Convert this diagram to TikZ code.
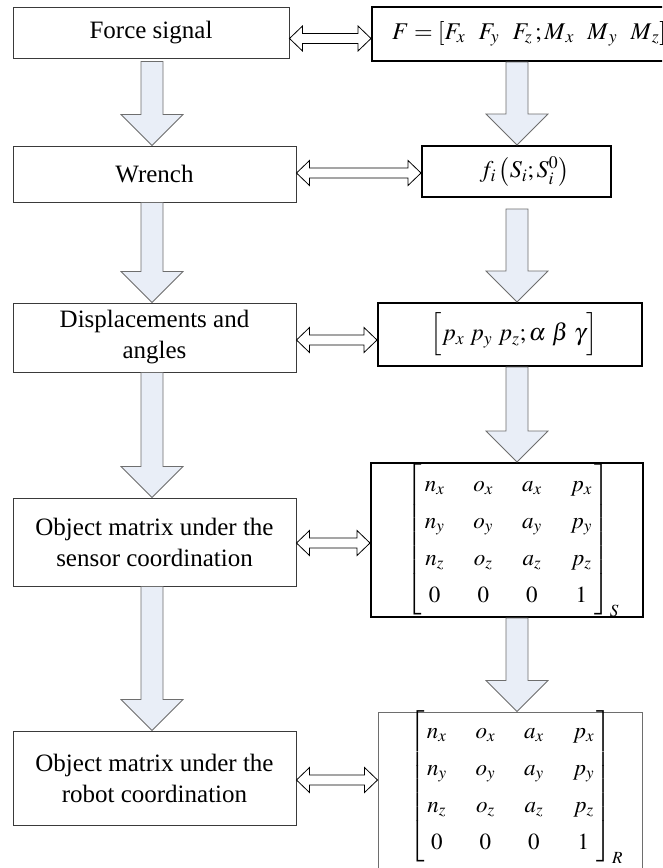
\documentclass[tikz,border=0pt]{standalone}
\usepackage{amsmath}
\usepackage{mathptmx}
\usepackage[no-math]{fontspec}
\setmainfont{Liberation Serif}
\usetikzlibrary{calc}
\definecolor{arrfill}{HTML}{E9EEF7}
\definecolor{arrline}{HTML}{6E6E6E}
\definecolor{boxline}{HTML}{3A3A3A}
\tikzset{
  lbox/.style={draw=boxline, line width=1pt, inner sep=0pt, align=center,
    font=\fontsize{25}{31}\selectfont},
  mbox/.style={draw=black, line width=2pt, inner sep=0pt, align=center,
    font=\fontsize{24}{29}\selectfont},
  tbox/.style={draw=arrline, line width=1pt, inner sep=0pt, align=center,
    font=\fontsize{24}{29}\selectfont},
  blk/.style={draw=arrline, fill=arrfill, line width=0.8pt, line join=miter},
  dbl/.style={draw=black, fill=white, line width=0.8pt, line join=miter},
}
\newcommand\blockdown[2]{%
  \draw[blk] let \p1=#1, \p2=#2 in
    (\x1-11pt,\y1) -- (\x1+11pt,\y1) -- (\x1+11pt,\y2+31pt) -- (\x1+31pt,\y2+31pt)
    -- (\x1,\y2) -- (\x1-31pt,\y2+31pt) -- (\x1-11pt,\y2+31pt) -- cycle;}
\newcommand\dblarrow[2]{%
  \draw[dbl] let \p1=#1, \p2=#2 in
    (\x1,\y1) -- (\x1+13pt,\y1+12.5pt) -- (\x1+13pt,\y1+5pt) -- (\x2-13pt,\y1+5pt)
    -- (\x2-13pt,\y1+12.5pt) -- (\x2,\y1) -- (\x2-13pt,\y1-12.5pt) -- (\x2-13pt,\y1-5pt)
    -- (\x1+13pt,\y1-5pt) -- (\x1+13pt,\y1-12.5pt) -- cycle;}
\newcommand\objmat[1]{\fontsize{23}{26.4}\selectfont\setlength\arraycolsep{14.5pt}%
  \renewcommand\arraystretch{1.4}%
  $\begin{bmatrix}\, n_x & o_x & a_x & p_x\,\\ \, n_y & o_y & a_y & p_y\,\\
   \, n_z & o_z & a_z & p_z\,\\ \, 0 & 0 & 0 & 1\,\end{bmatrix}_{#1}$}
\begin{document}
\begin{tikzpicture}[x=1pt,y=-1pt]
\clip (0,0) rectangle (662,868);
\fill[white] (0,0) rectangle (662,868);
\coordinate (colL) at (152,0);
\coordinate (colR) at (517,0);
% left column
\node[lbox, minimum width=276pt, minimum height=51pt] (fs) at (151,32.5) {Force signal};
\node[lbox, minimum width=283pt, minimum height=56pt] (wr) at (154.5,174) {Wrench};
\node[lbox, minimum width=283pt, minimum height=69pt] (dp) at (154.5,337.5) {Displacements and\\angles};
\node[lbox, minimum width=283pt, minimum height=88pt] (os) at (154.5,542) {Object matrix under the\\sensor coordination};
\node[lbox, minimum width=283pt, minimum height=94pt] (orb) at (154.5,778) {Object matrix under the\\robot coordination};
% right column
\node[mbox, anchor=west, minimum height=54pt, inner xsep=20pt] (r1) at (371,34)
  {$F=[F_x\;\;\, F_y\;\;\, F_z\,;M_{\,x}\;\;\, M_{\,y}\;\;\, M_{\,z}]$\hspace*{30pt}};
\node[mbox, minimum width=189pt, minimum height=51pt] (r2) at (516.5,171.5)
  {\hspace*{16pt}$f_i\left(S_i;S_i^0\right)$};
\node[mbox, minimum width=264pt, minimum height=63pt] (r3) at (510,334.5)
  {\hspace*{8pt}$\Bigl[p_x\ p_y\ p_z;\alpha\ \beta\ \gamma\Bigr]$};
\node[mbox, minimum width=272pt, minimum height=154pt] (r4) at (507,540)
  {\hspace*{12pt}\objmat{S}};
\node[tbox, minimum width=264pt, minimum height=158pt] (r5) at (510,791)
  {\hspace*{12pt}\raisebox{4pt}[\height][\depth]{\objmat{R}}};
% block arrows, left
\blockdown{($(fs.south -| colL)+(0,3)$)}{(wr.north -| colL)}
\blockdown{(wr.south -| colL)}{(dp.north -| colL)}
\blockdown{(dp.south -| colL)}{(os.north -| colL)}
\blockdown{(os.south -| colL)}{(orb.north -| colL)}
% block arrows, right
\blockdown{(r1.south -| colR)}{(r2.north -| colR)}
\blockdown{($(r2.south -| colR)+(0,11)$)}{(r3.north -| colR)}
\blockdown{(r3.south -| colR)}{(r4.north -| colR)}
\blockdown{(r4.south -| colR)}{(r5.north -| colR)}
% double arrows
\dblarrow{($(fs.east)+(0,6)$)}{(r1.west)}
\dblarrow{($(wr.east)+(0,-1)$)}{(r2.west)}
\dblarrow{($(dp.east)+(0,2.5)$)}{(r3.west)}
\dblarrow{($(os.east)+(0,1)$)}{(r4.west)}
\dblarrow{($(orb.east)+(0,2)$)}{(r5.west)}
\end{tikzpicture}
\end{document}
